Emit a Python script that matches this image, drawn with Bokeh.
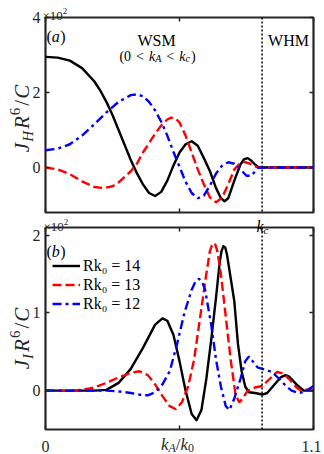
import math
from bokeh.plotting import figure
from bokeh.layouts import column
from bokeh.models import (LinearAxis, FixedTicker, Span, Legend, LegendItem,
                          Range1d)
from bokeh.core.properties import value
from bokeh.embed import file_html
from bokeh.resources import INLINE

# ---------------- data ----------------
kc = 0.889
x_ticks = [0, 0.55, 1.1]
top_yticks = [0, 2, 4]
bot_yticks = [0, 1, 2]
x_tick_labels = ["0", "", "1.1"]

# panel (a): J_H R^6 / C  (x 10^2)
jh14_x = [0, 0.05, 0.1, 0.15, 0.2, 0.225, 0.25, 0.275, 0.3, 0.325, 0.35, 0.375,
          0.4, 0.425, 0.45, 0.475, 0.5, 0.525, 0.55, 0.575, 0.6, 0.625, 0.65,
          0.675, 0.7, 0.72, 0.735, 0.75, 0.775, 0.8, 0.815, 0.83, 0.845, 0.86,
          0.875, 0.9, 1.0, 1.1]
jh14_y = [2.95, 2.93, 2.85, 2.65, 2.3, 2.05, 1.75, 1.4, 1.0, 0.6, 0.2, -0.15,
          -0.45, -0.68, -0.76, -0.65, -0.35, 0.05, 0.4, 0.62, 0.7, 0.58, 0.25,
          -0.1, -0.55, -0.82, -0.9, -0.82, -0.35, 0.08, 0.22, 0.25, 0.18, 0.08,
          0.0, 0.0, 0.0, 0.0]

jh13_x = [0, 0.05, 0.1, 0.15, 0.2, 0.24, 0.275, 0.3, 0.325, 0.35, 0.375, 0.4,
          0.425, 0.45, 0.475, 0.5, 0.515, 0.535, 0.55, 0.575, 0.6, 0.625, 0.65,
          0.675, 0.7, 0.725, 0.75, 0.775, 0.8, 0.815, 0.84, 0.86, 0.875, 0.9,
          1.0, 1.1]
jh13_y = [0.0, -0.05, -0.18, -0.37, -0.52, -0.55, -0.5, -0.4, -0.25, -0.1, 0.1,
          0.4, 0.65, 0.9, 1.12, 1.28, 1.33, 1.3, 1.2, 0.85, 0.4, -0.05, -0.45,
          -0.8, -0.93, -0.8, -0.45, -0.05, 0.12, 0.15, 0.1, 0.03, 0.0, 0.0,
          0.0, 0.0]

jh12_x = [0, 0.05, 0.1, 0.15, 0.2, 0.25, 0.3, 0.35, 0.375, 0.4, 0.425, 0.45,
          0.475, 0.5, 0.525, 0.55, 0.575, 0.6, 0.625, 0.65, 0.675, 0.7, 0.725,
          0.75, 0.775, 0.8, 0.825, 0.845, 0.86, 0.875, 0.9, 1.0, 1.1]
jh12_y = [0.46, 0.5, 0.62, 0.85, 1.15, 1.47, 1.75, 1.93, 1.95, 1.9, 1.75, 1.52,
          1.22, 0.85, 0.42, 0.02, -0.38, -0.68, -0.82, -0.75, -0.48, -0.16,
          0.05, 0.14, 0.1, -0.05, -0.22, -0.22, -0.1, 0.0, 0.0, 0.0, 0.0]

# panel (b): J_I R^6 / C  (x 10^2)
ji14_x = [0, 0.1, 0.2, 0.25, 0.3, 0.35, 0.4, 0.45, 0.48, 0.5, 0.525, 0.55,
          0.575, 0.6, 0.62, 0.64, 0.66, 0.68, 0.7, 0.715, 0.722, 0.73, 0.738,
          0.745, 0.76, 0.775, 0.79, 0.805, 0.82, 0.835, 0.86, 0.89, 0.91, 0.94,
          0.965, 0.985, 1.0, 1.03, 1.06, 1.1]
ji14_y = [0, 0, 0.0, 0.01, 0.1, 0.28, 0.55, 0.85, 0.93, 0.9, 0.72, 0.38, 0.0,
          -0.3, -0.38, -0.25, 0.15, 0.65, 1.2, 1.65, 1.79, 1.86, 1.84, 1.75,
          1.45, 1.15, 0.6, 0.25, 0.05, -0.02, -0.03, -0.05, -0.03, 0.08, 0.17,
          0.2, 0.18, 0.08, 0.0, 0.0]

ji13_x = [0, 0.1, 0.15, 0.2, 0.25, 0.3, 0.35, 0.385, 0.42, 0.45, 0.48, 0.51,
          0.535, 0.56, 0.585, 0.61, 0.635, 0.66, 0.675, 0.683, 0.69, 0.697,
          0.705, 0.72, 0.74, 0.76, 0.78, 0.795, 0.81, 0.83, 0.86, 0.89, 0.92,
          0.95, 0.975, 1.0, 1.03, 1.05, 1.08, 1.1]
ji13_y = [0, 0.0, 0.01, 0.04, 0.1, 0.17, 0.23, 0.25, 0.2, 0.08, -0.07, -0.2,
          -0.24, -0.15, 0.05, 0.4, 0.95, 1.5, 1.8, 1.87, 1.9, 1.88, 1.8, 1.5,
          0.95, 0.4, -0.05, -0.15, -0.1, 0.0, 0.04, 0.06, 0.15, 0.24, 0.22,
          0.15, 0.04, 0.0, 0.02, 0.05]

ji12_x = [0, 0.1, 0.25, 0.3, 0.35, 0.4, 0.42, 0.45, 0.48, 0.51, 0.54, 0.57,
          0.6, 0.615, 0.63, 0.643, 0.655, 0.68, 0.7, 0.72, 0.74, 0.755, 0.775,
          0.8, 0.82, 0.835, 0.85, 0.87, 0.9, 0.93, 0.96, 0.99, 1.01, 1.04,
          1.07, 1.1]
ji12_y = [0, 0, 0.0, -0.01, -0.03, -0.06, -0.06, -0.02, 0.08, 0.25, 0.6, 1.0,
          1.3, 1.4, 1.44, 1.4, 1.3, 0.85, 0.4, 0.05, -0.2, -0.25, -0.1, 0.15,
          0.38, 0.44, 0.38, 0.3, 0.27, 0.24, 0.15, 0.05, 0.0, -0.03, -0.01,
          0.06]

legend_labels = ["Rk\u2080 = 14", "Rk\u2080 = 13", "Rk\u2080 = 12"]

# ---------------- layout constants (page pixels) ----------------
FONT = "Liberation Serif"
AX = "#262626"
W = 324
FX0, FX1 = 45, 313
XR = (0, 1.1)
TOP = dict(page_top=0, height=215, fy0=17, fy1=212, yr=(-1.2, 4))
BOT = dict(page_top=215, height=239, fy0=227, fy1=429, yr=(-0.5, 2.1))

REG = {'(': 333, ')': 333, '<': 564, '=': 564, ' ': 250, '/': 278,
       '\u00d7': 564, '.': 250, 'W': 944, 'S': 556, 'M': 889, 'H': 722}
IT = {'k': 444, 'A': 611, 'c': 444, 'R': 611, 'J': 444, 'H': 722, 'I': 333,
      'C': 667, 'a': 500, 'b': 500}


def tw(s, size, italic):
    tab = IT if italic else REG
    return sum(tab.get(c, 500) for c in s) * size / 1000.0


def px2x(px):
    return XR[0] + (px - FX0) / (FX1 - FX0) * (XR[1] - XR[0])


def py2y(cfg, py):
    y0, y1 = cfg["yr"]
    return y1 - (py - cfg["fy0"]) / (cfg["fy1"] - cfg["fy0"]) * (y1 - y0)


def put(p, cfg, px, py, t, s, i, color, ang=0.0, align="left", base="alphabetic"):
    p.text(x=[px2x(px)], y=[py2y(cfg, py)], text=[t],
           text_font=value(FONT), text_font_size=value(f"{s}px"),
           text_font_style=value("italic" if i else "normal"),
           text_color=color, text_align=value(align),
           text_baseline=value(base), angle=ang, level="overlay")


def rich(p, cfg, runs, x, y, align="left", color="black"):
    """Horizontal text runs, anchored on the baseline at page pixel (x, y).
    runs: (text, size, italic, baseline shift px (down +), extra advance)"""
    total = sum(tw(t, s, i) + e for t, s, i, sh, e in runs)
    off = -total / 2 if align == "center" else 0.0
    for t, s, i, sh, e in runs:
        put(p, cfg, x + off, y + sh, t, s, i, color)
        off += tw(t, s, i) + e


def vrich(p, cfg, runs, xc, yc, color="black"):
    """Text runs rotated 90 deg (reading upwards), centred at page pixel
    (xc, yc).  shift > 0 moves a run towards the frame (subscript)."""
    total = sum(tw(t, s, i) + e for t, s, i, sh, e in runs)
    start = yc + total / 2
    off = 0.0
    for t, s, i, sh, e in runs:
        w = tw(t, s, i)
        put(p, cfg, xc + sh, start - off - w / 2, t, s, i, color,
            ang=math.pi / 2, align="center", base="middle")
        off += w + e


def make_fig(cfg, yticks):
    p = figure(width=W, height=cfg["height"], x_range=Range1d(*XR),
               y_range=Range1d(*cfg["yr"]), output_backend="svg",
               toolbar_location=None,
               min_border_left=FX0, min_border_right=W - FX1,
               min_border_top=cfg["fy0"] - cfg["page_top"],
               min_border_bottom=cfg["page_top"] + cfg["height"] - cfg["fy1"])
    p.grid.visible = False
    p.outline_line_color = AX
    p.outline_line_width = 2.2
    p.outline_line_alpha = 1.0
    p.background_fill_color = "white"
    p.border_fill_color = "white"

    def style(ax, ticks, labels):
        ax.ticker = FixedTicker(ticks=ticks)
        ax.major_tick_in = 4
        ax.major_tick_out = 0
        ax.major_tick_line_color = AX
        ax.major_tick_line_width = 1.5
        ax.minor_tick_line_color = None
        ax.axis_line_color = None
        if labels:
            ax.major_label_text_font = FONT
            ax.major_label_text_font_size = "16px"
            ax.major_label_text_color = AX
            ax.major_label_standoff = 5
        else:
            ax.major_label_text_font_size = "1px"
            ax.major_label_text_color = None
            ax.major_label_standoff = 0

    style(p.xaxis[0], x_ticks, False)
    style(p.yaxis[0], yticks, True)
    right = LinearAxis()
    style(right, yticks, False)
    p.add_layout(right, "right")
    above = LinearAxis()
    style(above, x_ticks, False)
    p.add_layout(above, "above")
    p.add_layout(Span(location=kc, dimension="height", line_color="black",
                      line_dash="2 2", line_width=1.5))
    return p


YLAB = lambda sub: [("J", 21, True, 0, 1), (sub, 15, True, 6, 2),
                    ("R", 21, True, 0, 1), ("6", 15, False, -6.5, 2),
                    ("/", 21, False, 0, 1), ("C", 21, True, 0, 0)]
LW = 2.4

# ---------------- panel (a) ----------------
p1 = make_fig(TOP, top_yticks)
p1.line(jh14_x, jh14_y, line_color="black", line_width=LW, line_join="round")
p1.line(jh13_x, jh13_y, line_color="red", line_width=LW, line_dash="9 4")
p1.line(jh12_x, jh12_y, line_color="blue", line_width=LW, line_dash="9 4 3 4")

rich(p1, TOP, [("\u00d710", 13, False, 0, 0), ("2", 9, False, -5, 0)], 42, 15, color=AX)
rich(p1, TOP, [("(", 16, False, 0, 0), ("a", 16, True, 0, 0.5), (")", 16, False, 0, 0)], 46, 36)
rich(p1, TOP, [("WSM", 16, False, 0, 0)], 156, 40, align="center")
rich(p1, TOP, [("(0", 14, False, 0, 5), ("<", 14, False, 0, 5), ("k", 14, True, 0, 0),
               ("A", 10, True, 2, 5), ("<", 14, False, 0, 5), ("k", 14, True, 0, 0),
               ("c", 10, True, 2, 1), (")", 14, False, 0, 0)], 157, 56, align="center")
rich(p1, TOP, [("WHM", 16, False, 0, 0)], 288, 40, align="center")
vrich(p1, TOP, YLAB("H"), 21, 118, color=AX)

# ---------------- panel (b) ----------------
p2 = make_fig(BOT, bot_yticks)
r14 = p2.line(ji14_x, ji14_y, line_color="black", line_width=LW, line_join="round")
r13 = p2.line(ji13_x, ji13_y, line_color="red", line_width=LW, line_dash="9 4")
r12 = p2.line(ji12_x, ji12_y, line_color="blue", line_width=LW, line_dash="9 4 3 4")

leg = Legend(items=[LegendItem(label=legend_labels[0], renderers=[r14]),
                    LegendItem(label=legend_labels[1], renderers=[r13]),
                    LegendItem(label=legend_labels[2], renderers=[r12])],
             location=(7, 116), border_line_color=None, background_fill_alpha=0,
             padding=0, margin=0, spacing=0, glyph_width=28, glyph_height=19,
             label_height=19, label_standoff=3, label_text_font=FONT,
             label_text_font_size="16px", label_text_color="black")
p2.add_layout(leg)

rich(p2, BOT, [("\u00d710", 13, False, 0, 0), ("2", 9, False, -5, 0)], 43, 226, color=AX)
rich(p2, BOT, [("k", 16, True, 0, 0), ("c", 11, True, 3, 0)], 262, 226, align="center")
rich(p2, BOT, [("(", 16, False, 0, 0), ("b", 16, True, 0, 0.5), (")", 16, False, 0, 0)], 46, 251)
vrich(p2, BOT, YLAB("I"), 21, 338, color=AX)
# x tick labels
rich(p2, BOT, [(x_tick_labels[0], 16, False, 0, 0)], 45, 446, align="center", color=AX)
rich(p2, BOT, [(x_tick_labels[2], 16, False, 0, 0)], 311, 446, align="center", color=AX)
rich(p2, BOT, [("k", 17, True, 0, 0), ("A", 12, True, 3, 0), ("/", 17, False, 0, 0),
               ("k", 17, True, 0, 0), ("0", 12, False, 3, 0)], 177, 444,
     align="center", color=AX)

layout = column(p1, p2, spacing=0)
open("out.html", "w").write(file_html(layout, INLINE))
